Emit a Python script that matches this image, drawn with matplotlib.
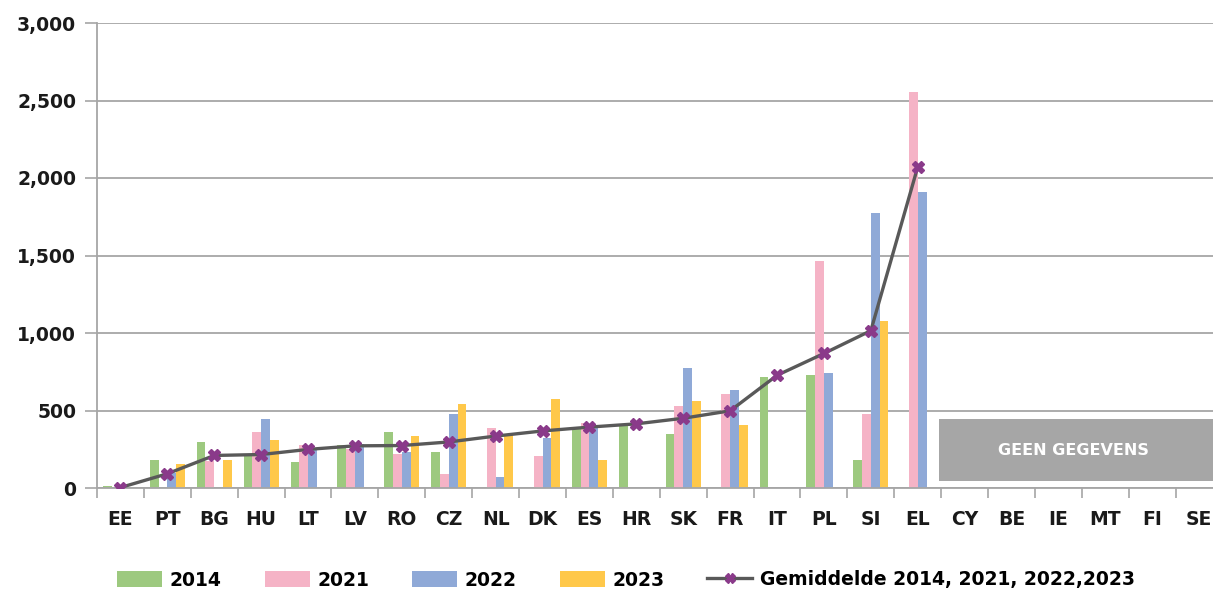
import numpy as np
import matplotlib
matplotlib.use("Agg")
import matplotlib.pyplot as plt
from matplotlib.lines import Line2D
from matplotlib.patches import Patch, Rectangle
from matplotlib.ticker import FuncFormatter, MultipleLocator

nan = np.nan

countries = ["EE", "PT", "BG", "HU", "LT", "LV", "RO", "CZ", "NL", "DK", "ES", "HR",
             "SK", "FR", "IT", "PL", "SI", "EL", "CY", "BE", "IE", "MT", "FI", "SE"]

v2014 = [15, 182, 300, 210, 170, 277, 360, 230, nan, nan, 388, 397,
         348, nan, 719, 730, 178, nan, nan, nan, nan, nan, nan, nan]
v2021 = [nan, nan, 172, 360, 277, 249, 221, 88, 384, 206, 418, nan,
         526, 609, nan, 1464, 476, 2557, nan, nan, nan, nan, nan, nan]
v2022 = [nan, 95, nan, 444, 253, 285, 230, 479, 73, 324, 392, nan,
         777, 633, nan, 743, 1775, 1907, nan, nan, nan, nan, nan, nan]
v2023 = [nan, 157, 182, 311, nan, nan, 337, 539, 343, 575, 182, nan,
         562, 408, nan, nan, 1078, nan, nan, nan, nan, nan, nan, nan]
gemiddelde = [3, 92, 210, 216, 249, 272, 274, 297, 335, 368, 393, 414,
              450, 498, 727, 868, 1015, 2072, nan, nan, nan, nan, nan, nan]

series = [("2014", v2014, "#9DC97F"),
          ("2021", v2021, "#F5B3C6"),
          ("2022", v2022, "#8FA9D7"),
          ("2023", v2023, "#FFC84A")]
avg_label = "Gemiddelde 2014, 2021, 2022,2023"
no_data_label = "GEEN GEGEVENS"

plt.rcParams["font.family"] = ["DejaVu Sans"]
plt.rcParams["font.weight"] = "bold"

W, H = 1213, 592
fig = plt.figure(figsize=(W / 100, H / 100), dpi=100)
cat_px = 46.9
ax_left, ax_bottom, ax_top = 97, 488, 23
ax = fig.add_axes([ax_left / W, (H - ax_bottom) / H,
                   len(countries) * cat_px / W, (ax_bottom - ax_top) / H])

x = np.arange(len(countries))
bw = 0.187
for i, (name, vals, col) in enumerate(series):
    ax.bar(x + (i - 1.5) * bw, np.array(vals, dtype=float), width=bw,
           color=col, label=name, zorder=2)

ax.plot(x, gemiddelde, color="#595959", lw=2.4, marker="X", markersize=8.5,
        markerfacecolor="#8A3A8A", markeredgecolor="#8A3A8A", zorder=4)

# block marking countries without data
ax.add_patch(Rectangle((17.45, 45), 7, 400, facecolor="#A6A6A6",
                       edgecolor="none", zorder=3, clip_on=True))
ax.text(20.33, 245, no_data_label, color="white", fontsize=11.5,
        fontweight="bold", ha="center", va="center", zorder=5)

ax.set_xlim(-0.5, len(countries) - 0.5)
ax.set_ylim(0, 3000)
ax.yaxis.set_major_locator(MultipleLocator(500))
ax.yaxis.set_major_formatter(FuncFormatter(lambda v, p: f"{int(v):,}"))
ax.grid(axis="y", color="#A6A6A6", lw=1.3, zorder=0)
ax.set_axisbelow(True)

ax.set_xticks(x)
ax.set_xticklabels(countries)
ax.set_xticks(np.arange(-0.5, len(countries), 1.0), minor=True)
ax.tick_params(axis="x", which="major", length=0, pad=16, labelsize=13.5,
               labelcolor="#1A1A1A")
ax.tick_params(axis="x", which="minor", length=7, width=1.2, color="#A6A6A6",
               direction="out")
ax.tick_params(axis="y", length=9, width=1.2, color="#A6A6A6", pad=6,
               labelsize=13.5, labelcolor="#1A1A1A")

for s in ("top", "right"):
    ax.spines[s].set_visible(False)
for s in ("left", "bottom"):
    ax.spines[s].set_color("#A6A6A6")
    ax.spines[s].set_linewidth(1.3)

handles = [Patch(facecolor=c, edgecolor="none") for _, _, c in series]
handles.append(Line2D([], [], color="#595959", lw=2.4, marker="X", markersize=7,
                      markerfacecolor="#8A3A8A", markeredgecolor="#8A3A8A"))
labels = [n for n, _, _ in series] + [avg_label]
fig.legend(handles, labels, loc="center", ncol=5, frameon=False,
           bbox_to_anchor=(626 / W, 1 - 580 / H), fontsize=13.5,
           handlelength=2.4, handleheight=0.9, handletextpad=0.4,
           columnspacing=2.3)

fig.savefig("out.png", dpi=100)
